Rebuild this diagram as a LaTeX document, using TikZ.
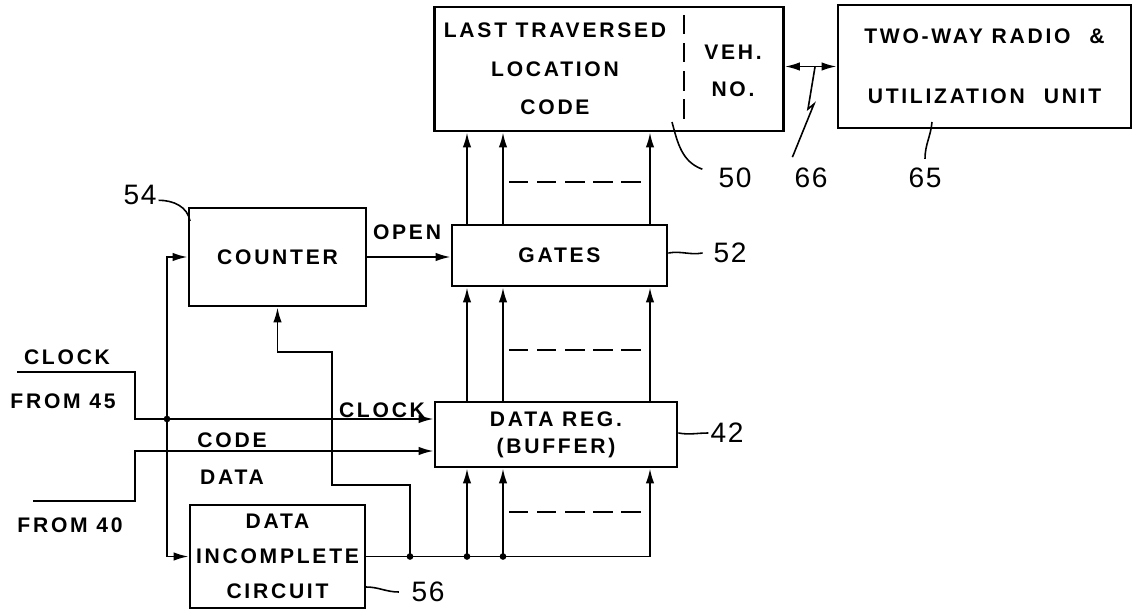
\documentclass[tikz,border=0pt]{standalone}
\usepackage{fontspec}
\setmainfont{Liberation Sans}
\newfontfamily\lettering{Liberation Sans}[LetterSpace=13]
\newfontfamily\numerals{Liberation Sans}[LetterSpace=6]
\usetikzlibrary{arrows.meta, positioning}

\begin{document}
\begin{tikzpicture}[x=0.02cm, y=-0.02cm,
    >={Latex[length=3mm,width=1.7mm]},
    unit/.style={draw, line width=1.6pt, inner sep=0pt, align=center,
                 font=\lettering\bfseries\fontsize{12}{14}\selectfont},
    caption/.style={inner sep=1pt, align=center,
                    font=\lettering\bfseries\fontsize{12}{14}\selectfont},
    refnum/.style={inner sep=1pt, font=\numerals\fontsize{16}{18}\selectfont},
    bus/.style={line width=1.1pt},
    leader/.style={line width=0.9pt},
    elided/.style={line width=0.9pt, dash pattern=on 11pt off 5pt},
    dot/.style={circle, fill, inner sep=0pt, minimum size=3.8pt}]

  \useasboundingbox (0,0) rectangle (1133,615);

  % blocks
  \node[unit, minimum width=6.98cm, minimum height=2.48cm] (ltl) at (609,69) {};
  \node[caption] (ltlcode) at (555,69) {LAST TRAVERSED\\[8pt]LOCATION\\[8pt]CODE};
  \node[caption] (vehno) at (733,71) {VEH.\\[7pt]NO.};
  \draw[elided] (684,15) -- (684,122);
  \node[unit, minimum width=5.86cm, minimum height=2.46cm] (radio) at (984.5,66.5)
    {TWO-WAY RADIO\hspace{0.9em}\&\\[20pt]UTILIZATION\hspace{0.9em}UNIT};
  \node[unit, minimum width=3.54cm, minimum height=1.96cm] (counter) at (277.5,257) {COUNTER};
  \node[unit, minimum width=4.3cm, minimum height=1.22cm] (gates) at (559.5,255.5) {GATES};
  \node[unit, minimum width=4.84cm, minimum height=1.3cm] (datareg) at (556,434.5)
    {DATA REG.\\[1.5pt](BUFFER)};
  \node[unit, minimum width=3.5cm, minimum height=2.06cm] (dic) at (277.5,556.5)
    {DATA\\[6pt]INCOMPLETE\\[6pt]CIRCUIT};

  % parallel code lines
  \coordinate (b1) at (467,0);
  \coordinate (b2) at (503,0);
  \coordinate (b3) at (650,0);
  \draw[bus] (dic.east) -- (dic.east -| b3);
  \foreach \b in {b1,b2,b3} {
    \draw[bus,->] (gates.north -| \b) -- (ltl.south -| \b);
    \draw[bus,->] (datareg.north -| \b) -- (gates.south -| \b);
    \draw[bus,->] (dic.east -| \b) -- (datareg.south -| \b);
  }
  \draw[elided] (509,182) -- (647,182);
  \draw[elided] (509,350) -- (647,350);
  \draw[elided] (509,512) -- (647,512);

  % radio link
  \draw[bus,<->] (radio.west -| ltl.east) -- (radio.west);
  \coordinate (j66) at (815,67);

  % counter
  \draw[bus,->] (counter.east) -- (counter.east -| gates.west);
  \node[caption] (open) at (407,232) {OPEN};
  \coordinate (fb1) at (410,485);
  \coordinate (fb2) at (332,352);
  \draw[bus,->] (dic.east -| fb1) -- (fb1) -| (fb2) -| (counter.south);

  % inputs
  \coordinate (clkin) at (17,372);
  \coordinate (clkturn) at (135,419);
  \coordinate (jclk) at (167,419);
  \draw[bus,->] (clkin) -| (clkturn) -- (clkturn -| datareg.west);
  \draw[bus,->] (jclk) |- (counter.west);
  \draw[bus,->] (jclk) |- (dic.west);
  \coordinate (codein) at (33,501);
  \coordinate (codeturn) at (135,451);
  \draw[bus,->] (codein) -| (codeturn) -- (codeturn -| datareg.west);

  \node[caption] (clk45) at (67,357) {CLOCK};
  \node[caption] (from45) at (63,401) {FROM 45};
  \node[caption] (code) at (232,440) {CODE};
  \node[caption] (data) at (232,477) {DATA};
  \node[caption] (from40) at (70,525) {FROM 40};
  \node[caption] (clkreg) at (382,410) {CLOCK};

  % junctions
  \node[dot] (d1) at (jclk) {};
  \node[dot] (d2) at (dic.east -| fb1) {};
  \node[dot] (d3) at (dic.east -| b1) {};
  \node[dot] (d4) at (dic.east -| b2) {};

  % reference numerals
  \node[refnum] (n50) at (735,178) {50};
  \node[refnum] (n66) at (811,178) {66};
  \node[refnum] (n65) at (925,178) {65};
  \node[refnum] (n52) at (730,253) {52};
  \node[refnum] (n42) at (727,433) {42};
  \node[refnum] (n54) at (140,195) {54};
  \node[refnum] (n56) at (428,592) {56};
  \coordinate (p50) at (672,122);
  \coordinate (p65) at (932,122);
  \coordinate (p54) at (190,221);
  \coordinate (p56) at (366,587);
  \draw[leader] (p50) to[out=-75,in=160] ([shift={(-8pt,5pt)}]n50.west);
  \draw[leader] (j66) -- ++(-7,42) -- ++(6,-5) -- ([yshift=5pt]n66.north west);
  \draw[leader] (p65) to[out=-95,in=90] ([yshift=4pt]n65.north);
  \draw[leader] (gates.east |- n52) to[out=10,in=190] ([xshift=-5pt]n52.west);
  \draw[leader] (datareg.east |- n42) to[out=-10,in=180] (n42.west);
  \draw[leader] ([yshift=-3pt]n54.east) to[out=0,in=100] (p54);
  \draw[leader] (p56) to[out=0,in=180] ([xshift=-6pt]n56.west);
\end{tikzpicture}
\end{document}
